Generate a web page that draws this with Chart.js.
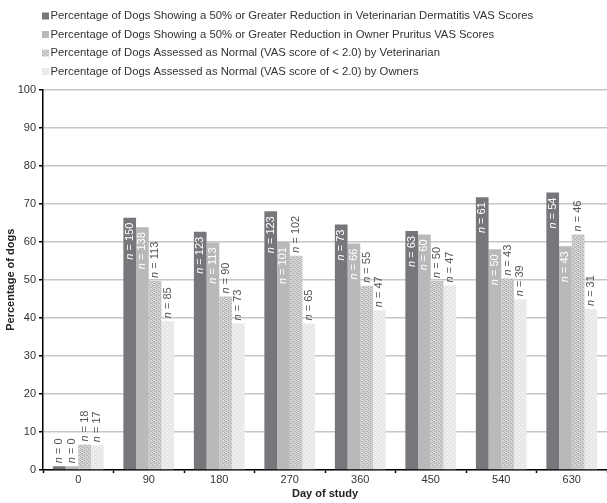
<!DOCTYPE html>
<html lang="en">
<head>
    <meta charset="UTF-8">
    <title>Percentage of dogs by day of study</title>
    <style>
        body {
            margin: 0;
            background-color: #ffffff;
        }
        #wrap {
            width: 607px;
            height: 503px;
        }
    </style>
</head>
<body>
    <div id="wrap">
        <canvas id="barChart" width="607" height="503"></canvas>
    </div>

    <script src="https://cdn.jsdelivr.net/npm/chart.js"></script>
    <script>
        const days = ['0', '90', '180', '270', '360', '450', '540', '630'];

        const seriesNames = [
            'Percentage of Dogs Showing a 50% or Greater Reduction in Veterinarian Dermatitis VAS Scores',
            'Percentage of Dogs Showing a 50% or Greater Reduction in Owner Pruritus VAS Scores',
            'Percentage of Dogs Assessed as Normal (VAS score of < 2.0) by Veterinarian',
            'Percentage of Dogs Assessed as Normal (VAS score of < 2.0) by Owners'
        ];

        const vetReduction   = [1, 66.3, 62.6, 68.0, 64.5, 62.8, 71.7, 72.9];
        const ownerReduction = [1, 63.8, 59.8, 59.9, 59.5, 61.9, 58.0, 58.8];
        const vetNormal      = [6.7, 49.7, 45.6, 56.3, 48.4, 49.7, 50.3, 61.9];
        const ownerNormal    = [6.5, 39.1, 38.5, 38.5, 42.0, 48.5, 44.9, 42.3];

        const vetReductionN   = [0, 150, 123, 123, 73, 63, 61, 54];
        const ownerReductionN = [0, 138, 113, 101, 66, 60, 50, 43];
        const vetNormalN      = [18, 113, 90, 102, 55, 50, 43, 46];
        const ownerNormalN    = [17, 85, 73, 65, 47, 47, 39, 31];

        const yTicks = [0, 10, 20, 30, 40, 50, 60, 70, 80, 90, 100];

        const FONT = '"Liberation Sans", Arial, sans-serif';

        // small dotted fills for the two "normal" series
        function makePattern(base, dot) {
            const c = document.createElement('canvas');
            c.width = 4;
            c.height = 4;
            const g = c.getContext('2d');
            g.fillStyle = base;
            g.fillRect(0, 0, 4, 4);
            g.fillStyle = dot;
            g.fillRect(0, 0, 1, 1);
            g.fillRect(2, 1, 1, 1);
            g.fillRect(0, 2, 1, 1);
            g.fillRect(2, 3, 1, 1);
            g.fillRect(1, 1, 1, 1);
            g.fillRect(3, 3, 1, 1);
            return g.createPattern(c, 'repeat');
        }

        const fills = [
            '#77777b',
            '#b9b9bc',
            makePattern('#d6d6d6', '#b2b2b2'),
            makePattern('#f0f0f0', '#e0e0e0')
        ];

        const counts = [vetReductionN, ownerReductionN, vetNormalN, ownerNormalN];

        // rotated "n = xx" labels
        const nLabels = {
            id: 'nLabels',
            afterDatasetsDraw(chart) {
                const ctx = chart.ctx;
                ctx.save();
                ctx.textBaseline = 'middle';
                ctx.textAlign = 'left';
                chart.data.datasets.forEach((ds, i) => {
                    const meta = chart.getDatasetMeta(i);
                    meta.data.forEach((bar, j) => {
                        const rest = ' = ' + counts[i][j];
                        ctx.font = 'italic 11px ' + FONT;
                        const wN = ctx.measureText('n').width;
                        ctx.font = '11px ' + FONT;
                        const wRest = ctx.measureText(rest).width;
                        const inside = i < 2 && ds.data[j] > 15;
                        const start = inside ? -(5 + wN + wRest) : 3;
                        ctx.save();
                        ctx.translate(bar.x, bar.y);
                        ctx.rotate(-Math.PI / 2);
                        ctx.fillStyle = inside ? '#ffffff' : '#555555';
                        ctx.font = 'italic 11px ' + FONT;
                        ctx.fillText('n', start, 0);
                        ctx.font = '11px ' + FONT;
                        ctx.fillText(rest, start + wN, 0);
                        ctx.restore();
                    });
                });
                ctx.restore();
            }
        };

        // stacked legend at the top left
        const topLegend = {
            id: 'topLegend',
            afterDraw(chart) {
                const ctx = chart.ctx;
                const rows = [16, 34.5, 53, 71.5];
                ctx.save();
                ctx.font = '11.3px ' + FONT;
                ctx.textBaseline = 'middle';
                ctx.textAlign = 'left';
                chart.data.datasets.forEach((ds, i) => {
                    const y = rows[i];
                    ctx.fillStyle = ds.backgroundColor;
                    ctx.fillRect(42, y - 3.5, 7, 7);
                    ctx.fillStyle = '#333333';
                    ctx.fillText(ds.label, 50.5, y);
                });
                ctx.restore();
            }
        };

        const seriesData = [vetReduction, ownerReduction, vetNormal, ownerNormal];

        new Chart(document.getElementById('barChart'), {
            type: 'bar',
            data: {
                labels: days,
                datasets: seriesData.map((vals, i) => ({
                    label: seriesNames[i],
                    data: vals,
                    backgroundColor: fills[i],
                    borderWidth: 0,
                    categoryPercentage: 0.72,
                    barPercentage: 1
                }))
            },
            options: {
                responsive: false,
                animation: false,
                devicePixelRatio: 1,
                layout: {
                    padding: { top: 89.5, right: 0, left: 0, bottom: 0 }
                },
                scales: {
                    x: {
                        offset: true,
                        grid: {
                            offset: true,
                            drawOnChartArea: false,
                            drawTicks: true,
                            tickLength: 3,
                            tickColor: '#000000',
                            tickWidth: 1.5
                        },
                        border: { color: '#000000', width: 1.5 },
                        ticks: {
                            color: '#333333',
                            padding: 0,
                            font: { size: 11, family: FONT }
                        },
                        title: {
                            display: true,
                            text: 'Day of study',
                            color: '#222222',
                            padding: { top: 0, bottom: 2 },
                            font: { size: 11, weight: 'bold', family: FONT }
                        },
                        afterFit(scale) {
                            scale.height = 33;
                        }
                    },
                    y: {
                        min: 0,
                        max: 100,
                        afterBuildTicks(scale) {
                            scale.ticks = yTicks.map(v => ({ value: v }));
                        },
                        grid: {
                            color: '#c6c6c6',
                            lineWidth: 1.5,
                            tickLength: 4,
                            tickColor: '#000000',
                            tickWidth: 1.5
                        },
                        border: { color: '#000000', width: 1.5 },
                        ticks: {
                            color: '#333333',
                            padding: 3,
                            font: { size: 11, family: FONT }
                        },
                        title: {
                            display: true,
                            text: 'Percentage of dogs',
                            color: '#222222',
                            padding: { top: 4, bottom: 0 },
                            font: { size: 11, weight: 'bold', family: FONT }
                        },
                        afterFit(scale) {
                            scale.width = 43;
                        }
                    }
                },
                plugins: {
                    legend: { display: false },
                    tooltip: { enabled: false }
                }
            },
            plugins: [nLabels, topLegend]
        });
    </script>
</body>
</html>
